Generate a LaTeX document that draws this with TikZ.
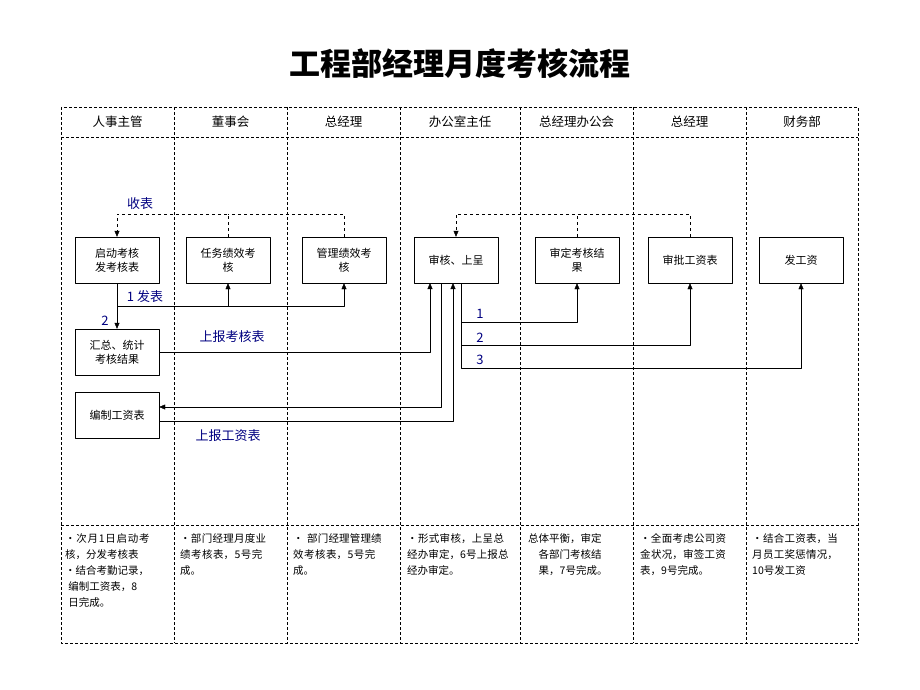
\documentclass[tikz,border=0pt]{standalone}
\usepackage{fontspec}
\setmainfont{Noto Sans CJK SC}
\XeTeXlinebreaklocale "zh"
\XeTeXlinebreakskip = 0pt plus 1pt
\usetikzlibrary{arrows.meta}
\tikzset{
  box/.style={draw, minimum width=84pt, minimum height=46pt, inner sep=1pt, align=center, font=\fontsize{11}{14}\selectfont},
  lbl/.style={text=blue!50!black, font=\fontsize{13}{14}\selectfont, inner sep=1pt},
  note/.style={anchor=north west, text width=88pt, align=left, inner sep=0pt, font=\fontsize{10.5}{16}\selectfont},
  lane/.style={densely dashed},
  flow/.style={-{Triangle[length=6pt,width=5pt]}}
}
\begin{document}
\begin{tikzpicture}[x=1pt,y=-1pt, line join = round]
                \useasboundingbox (0,0) rectangle (920,690);
                % title
                \node[font=\fontsize{31}{34}\selectfont\bfseries] (title) at (460,64) {工程部经理月度考核流程};
                % table
                \draw[lane] (61,107) rectangle (858,643);
                \draw[lane] (61,137) -- (858,137);
                \draw[lane] (61,525) -- (858,525);
                \foreach \x in {174,287,400,520,633,746}
                  \draw[lane] (\x,107) -- (\x,643);
                % headers
                \foreach \x/\t in {117.5/人事主管,230.5/董事会,343.5/总经理,460/办公室主任,576.5/总经理办公会,689.5/总经理,802/财务部}
                  \node[font=\fontsize{12.5}{14}\selectfont] at (\x,122) {\t};
                % boxes
                \node[box] (start) at (117,260) {启动考核\\发考核表};
                \node[box] (task) at (228,260) {任务绩效考\\核};
                \node[box] (mgmt) at (344,260) {管理绩效考\\核};
                \node[box] (check) at (456,260) {审核、上呈};
                \node[box] (decide) at (577,260) {审定考核结\\果};
                \node[box] (approve) at (690,260) {审批工资表};
                \node[box] (pay) at (801,260) {发工资};
                \node[box] (sum) at (117,352) {汇总、统计\\考核结果};
                \node[box] (salary) at (117,415) {编制工资表};
                % connectors
                \draw[flow] (start) -- (sum);
                \draw[flow] (117,306) -| (task);
                \draw[flow] (117,306) -| (mgmt);
                \draw[dashed,flow] (task.north) |- (117,214) -- (start.north);
                \draw[dashed] (mgmt.north) |- (228,214);
                \draw[dashed,flow] (approve.north) |- (456,214) -- (check.north);
                \draw[dashed] (decide.north) -- (577,214);
                \draw[flow] (sum.east) -| (430,283);
                \draw[flow] (441,283) |- (salary.east |- 0,407);
                \draw[flow] (salary.east |- 0,421) -| (453,283);
                \draw[flow] (461,283) |- (577,322) -- (decide.south);
                \draw[flow] (461,322) |- (690,345) -- (approve.south);
                \draw[flow] (461,345) |- (801,368) -- (pay.south);
                % labels
                \node[lbl] (l1) at (140,204) {收表};
                \node[lbl] (l2) at (145,297) {1 发表};
                \node[lbl] (l3) at (105,321) {2};
                \node[lbl] (l4) at (232,337) {上报考核表};
                \node[lbl] (l5) at (228,436) {上报工资表};
                \node[lbl] (n1) at (480,314) {1};
                \node[lbl] (n2) at (480,338) {2};
                \node[lbl] (n3) at (480,360) {3};
                % notes
                \node[note,text width=100pt] (t1) at (65,533) {•次月1日启动考核，分发考核表\\•结合考勤记录，\\\hspace*{0.3em}编制工资表，8\\\hspace*{0.3em}日完成。};
                \node[note,text width=92pt] (t2) at (180,533) {•部门经理月度业绩考核表，5号完成。};
                \node[note,text width=92pt] (t3) at (293,533) {•\ 部门经理管理绩效考核表，5号完成。};
                \node[note,text width=104pt] (t4) at (407,533) {•形式审核，上呈总经办审定，6号上报总经办审定。};
                \node[note,text width=95pt] (t5) at (528,533) {总体平衡，审定\\\hspace*{1em}各部门考核结\\\hspace*{1em}果，7号完成。};
                \node[note,text width=92pt] (t6) at (640,533) {•全面考虑公司资金状况，审签工资表，9号完成。};
                \node[note,text width=92pt] (t7) at (752,533) {•结合工资表，当月员工奖惩情况，10号发工资};
\end{tikzpicture}
\end{document}
